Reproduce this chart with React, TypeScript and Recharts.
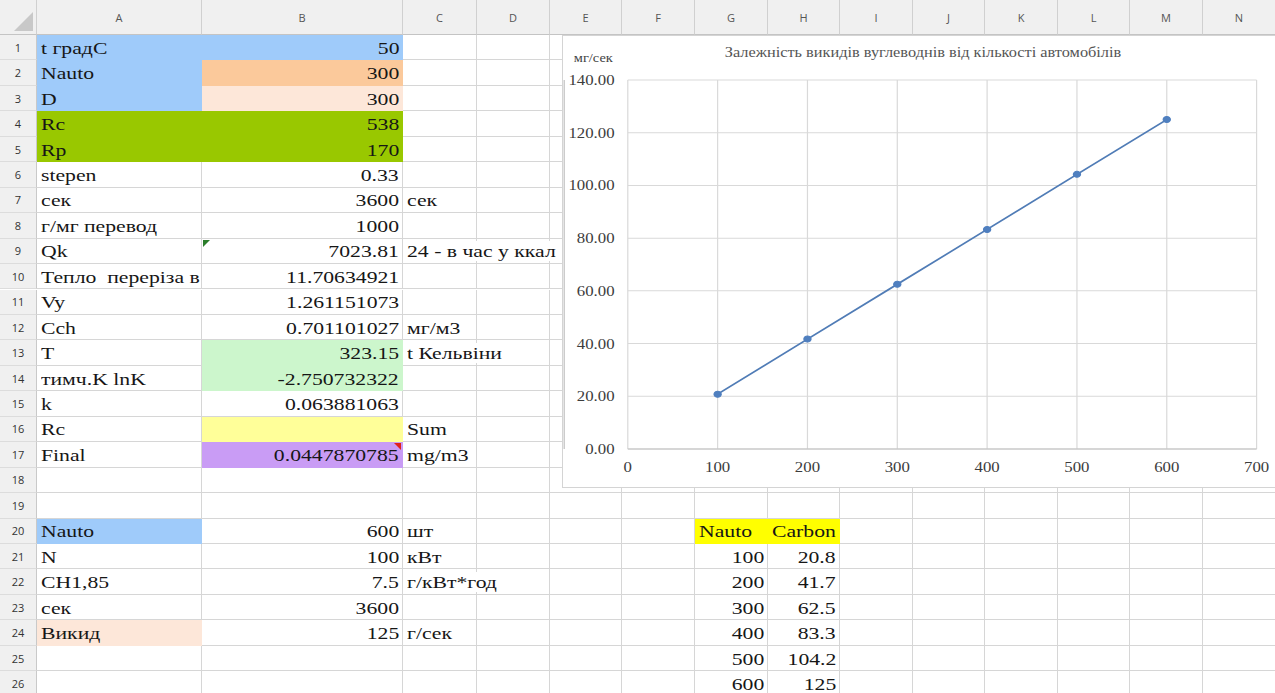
import React from 'react';
import { LineChart, Line, XAxis, YAxis, CartesianGrid } from 'recharts';

// chart data (same numbers as the G/H table in the sheet)
const nautoValues = [100, 200, 300, 400, 500, 600];
const carbonValues = [20.8, 41.7, 62.5, 83.3, 104.2, 125];
const xTicks = [0, 100, 200, 300, 400, 500, 600, 700];
const yTicks = [0, 20, 40, 60, 80, 100, 120, 140];
const yMinorTicks = [0, 5, 10, 15, 20, 25, 30, 35, 40, 45, 50, 55, 60, 65, 70, 75, 80, 85, 90, 95, 100, 105, 110, 115, 120, 125, 130, 135, 140];

const chartTitle = 'Залежність викидів вуглеводнів від кількості автомобілів';
const yUnit = 'мг/сек';

// sheet columns A, B, C (rows 1..26)
const colA = ['t градС', 'Nauto', 'D', 'Rc', 'Rp', 'stepen', 'сек', 'г/мг перевод', 'Qk', 'Тепло  переріза в', 'Vy', 'Cch', 'T', 'тимч.K lnK', 'k', 'Rc', 'Final', '', '', 'Nauto', 'N', 'CH1,85', 'сек', 'Викид', '', ''];
const colB = ['50', '300', '300', '538', '170', '0.33', '3600', '1000', '7023.81', '11.70634921', '1.261151073', '0.701101027', '323.15', '-2.750732322', '0.063881063', '', '0.0447870785', '', '', '600', '100', '7.5', '3600', '125', '', ''];
const colC = ['', '', '', '', '', '', 'сек', '', '24 - в час у ккал', '', '', 'мг/м3', 't Кельвіни', '', '', 'Sum', 'mg/m3', '', '', 'шт', 'кВт', 'г/кВт*год', '', 'г/сек', '', ''];
const tableHeaders = ['Nauto', 'Carbon'];
const tableFirstRow = 21;

const colNames = ['', 'A', 'B', 'C', 'D', 'E', 'F', 'G', 'H', 'I', 'J', 'K', 'L', 'M', 'N'];
const colEdges = [0, 37, 202, 403, 477, 550, 622, 695, 768, 840, 913, 985, 1058, 1130, 1203, 1276];

const fills: Record<string, string> = {
  A1: '#9fcbfa', B1: '#9fcbfa', A2: '#9fcbfa', A3: '#9fcbfa',
  B2: '#fbc99b', B3: '#fde7d9',
  A4: '#99c800', B4: '#99c800', A5: '#99c800', B5: '#99c800',
  B13: '#ccf6cc', B14: '#ccf6cc',
  B16: '#ffff99', B17: '#c99cf5',
  A20: '#9fcbfa', A24: '#fde7d9',
  G20: '#ffff00', H20: '#ffff00',
};

const HEADER_H = 35;
const ROW_H = 25.45;
const ROWS = 26;
const STRETCH = 1.2; // the screenshot is a bit wider than tall
const TEXT_STRETCH = 1.24;
const FONT = 'Liberation Serif';
const GRID = '#d6d6d6';

const rowTop = (r: number) => HEADER_H + (r - 1) * ROW_H;

const chartData = nautoValues.map((n, i) => ({ nauto: n, carbon: carbonValues[i] }));

type CellTextProps = {
  col: number;
  row: number;
  text: string;
  align: 'left' | 'right';
  clip?: boolean;
  bg?: string;
};

const CellText = ({ col, row, text, align, clip, bg }: CellTextProps) => {
  const left = colEdges[col];
  const width = colEdges[col + 1] - left;
  return (
    <div
      style={{
        position: 'absolute',
        left: align === 'left' ? left + 4 : left,
        top: rowTop(row),
        width: width - 4,
        height: ROW_H,
        display: 'flex',
        alignItems: 'center',
        justifyContent: align === 'left' ? 'flex-start' : 'flex-end',
        overflow: clip ? 'hidden' : 'visible',
        whiteSpace: 'pre',
        fontFamily: FONT,
        fontSize: 17.5,
        color: '#161616',
      }}
    >
      <span
        style={{
          display: 'inline-block',
          transform: `scaleX(${TEXT_STRETCH})`,
          transformOrigin: align === 'left' ? 'left center' : 'right center',
          background: bg,
          lineHeight: '20px',
        }}
      >
        {text}
      </span>
    </div>
  );
};

const Sheet = () => {
  const cells: React.ReactNode[] = [];
  for (let r = 1; r <= ROWS; r++) {
    for (let c = 1; c < colNames.length; c++) {
      const fill = fills[colNames[c] + r];
      cells.push(
        <div
          key={`${c}-${r}`}
          style={{
            position: 'absolute',
            left: colEdges[c],
            top: rowTop(r),
            width: colEdges[c + 1] - colEdges[c],
            height: ROW_H,
            boxSizing: 'border-box',
            background: fill || '#fff',
            borderRight: fill ? 'none' : `1px solid ${GRID}`,
            borderBottom: fill ? 'none' : `1px solid ${GRID}`,
          }}
        />
      );
    }
    // row number
    cells.push(
      <div
        key={`rn-${r}`}
        style={{
          position: 'absolute',
          left: 0,
          top: rowTop(r),
          width: colEdges[1],
          height: ROW_H,
          boxSizing: 'border-box',
          background: '#f0f0f0',
          borderRight: '1px solid #c9c9c9',
          borderBottom: '1px solid #dcdcdc',
          display: 'flex',
          alignItems: 'center',
          justifyContent: 'center',
          fontFamily: 'Open Sans',
          fontSize: 11,
          color: '#333',
        }}
      >
        {r}
      </div>
    );
  }

  const headers = colNames.map((name, c) => (
    <div
      key={`h-${c}`}
      style={{
        position: 'absolute',
        left: colEdges[c],
        top: 0,
        width: colEdges[c + 1] - colEdges[c],
        height: HEADER_H,
        boxSizing: 'border-box',
        background: '#f0f0f0',
        borderRight: '1px solid #d0d0d0',
        borderBottom: '1px solid #c4c4c4',
        display: 'flex',
        alignItems: 'center',
        justifyContent: 'center',
        fontFamily: 'Open Sans',
        fontSize: 11,
        color: '#555',
      }}
    >
      {name}
    </div>
  ));

  const texts: React.ReactNode[] = [];
  colA.forEach((t, i) => t && texts.push(<CellText key={`a${i}`} col={1} row={i + 1} text={t} align="left" clip />));
  colB.forEach((t, i) => t && texts.push(<CellText key={`b${i}`} col={2} row={i + 1} text={t} align="right" />));
  colC.forEach((t, i) => t && texts.push(<CellText key={`c${i}`} col={3} row={i + 1} text={t} align="left" bg="#fff" />));
  tableHeaders.forEach((t, i) => texts.push(<CellText key={`th${i}`} col={7 + i} row={tableFirstRow - 1} text={t} align="left" />));
  nautoValues.forEach((v, i) => texts.push(<CellText key={`g${i}`} col={7} row={tableFirstRow + i} text={String(v)} align="right" />));
  carbonValues.forEach((v, i) => texts.push(<CellText key={`h${i}`} col={8} row={tableFirstRow + i} text={String(v)} align="right" />));

  return (
    <>
      {cells}
      {headers}
      <svg style={{ position: 'absolute', left: 0, top: 0 }} width={37} height={35}>
        <polygon points="14,31 33,31 33,12" fill="#c8c8c8" />
      </svg>
      {texts}
      <svg style={{ position: 'absolute', left: colEdges[2] + 1, top: rowTop(9) + 1 }} width={8} height={8}>
        <polygon points="0,0 7,0 0,7" fill="#2a7d2a" />
      </svg>
      <svg style={{ position: 'absolute', left: colEdges[3] - 9, top: rowTop(17) + 1 }} width={8} height={8}>
        <polygon points="0,0 7,0 7,7" fill="#e0201c" />
      </svg>
    </>
  );
};

const tickStyle = { fontSize: 14, fill: '#3c3c3c', fontFamily: FONT };

const Chart = () => (
  <div
    style={{
      position: 'absolute',
      left: 562,
      top: 35,
      width: 720,
      height: 453,
      background: '#fff',
      border: '1px solid #d4d4d4',
      boxSizing: 'border-box',
    }}
  >
    <div style={{ position: 'absolute', left: 0, top: 0, width: 600, height: 453, transform: `scaleX(${STRETCH})`, transformOrigin: '0 0' }}>
      <div
        style={{
          position: 'absolute',
          left: 0,
          top: 9,
          width: 600,
          textAlign: 'center',
          fontFamily: FONT,
          fontSize: 13.6,
          color: '#555',
          whiteSpace: 'nowrap',
        }}
      >
        {chartTitle}
      </div>
      <div style={{ position: 'absolute', left: 9, top: 15, fontFamily: FONT, fontSize: 12, color: '#444' }}>{yUnit}</div>
      <LineChart width={600} height={453} data={chartData} margin={{ top: 44, right: 22, left: 0, bottom: 0 }}>
        <CartesianGrid yAxisId="main" stroke="#d9d9d9" />
        <YAxis
          yAxisId="minor"
          type="number"
          domain={[0, 140]}
          ticks={yMinorTicks}
          width={1}
          tick={false}
          tickSize={4}
          tickLine={{ stroke: '#b0b0b0' }}
          axisLine={{ stroke: '#bfbfbf' }}
        />
        <YAxis
          yAxisId="main"
          type="number"
          domain={[0, 140]}
          ticks={yTicks}
          width={53}
          tick={tickStyle}
          tickSize={0}
          tickMargin={11}
          axisLine={false}
          tickLine={false}
          tickFormatter={(v: number) => v.toFixed(2)}
        />
        <XAxis
          dataKey="nauto"
          type="number"
          domain={[0, 700]}
          ticks={xTicks}
          height={40}
          tick={tickStyle}
          tickSize={0}
          tickMargin={13}
          axisLine={{ stroke: '#bfbfbf' }}
          tickLine={false}
        />
        <Line
          yAxisId="main"
          type="linear"
          dataKey="carbon"
          stroke="#507cb6"
          strokeWidth={1.6}
          dot={{ r: 3, fill: '#4f7fbf', stroke: '#4f7fbf', strokeWidth: 1 }}
          isAnimationActive={false}
        />
      </LineChart>
    </div>
  </div>
);

export default function App() {
  return (
    <div style={{ position: 'fixed', left: 0, top: 0, width: 1275, height: 693, overflow: 'hidden', background: '#fff' }}>
      <Sheet />
      <Chart />
    </div>
  );
}
